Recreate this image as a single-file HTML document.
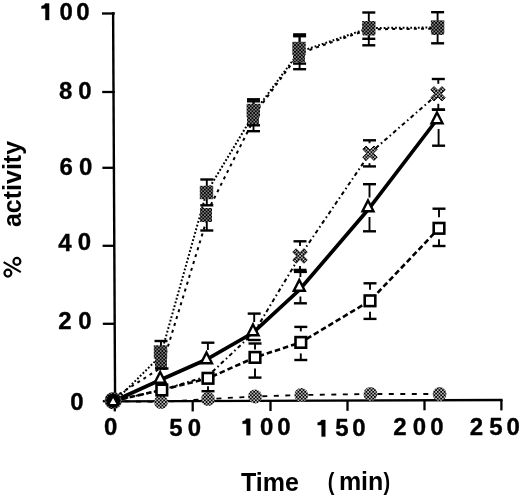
<!DOCTYPE html>
<html><head><meta charset="utf-8"><style>
html,body{margin:0;padding:0;background:#fff;}
svg{display:block;will-change:transform;}
text{font-family:"Liberation Sans",sans-serif;font-weight:bold;}
</style></head><body>
<svg width="520" height="497" viewBox="0 0 520 497">
<defs>
<pattern id="chk" patternUnits="userSpaceOnUse" width="3.4" height="3.4">
<rect width="3.4" height="3.4" fill="#000"/>
<rect x="0.25" y="0.25" width="1.2" height="1.2" fill="#fff"/>
<rect x="1.95" y="1.95" width="1.2" height="1.2" fill="#fff"/>
</pattern>
<pattern id="chk2" patternUnits="userSpaceOnUse" width="3.4" height="3.4">
<rect width="3.4" height="3.4" fill="#000"/>
<rect x="0.15" y="0.15" width="1.45" height="1.45" fill="#fff"/>
<rect x="1.85" y="1.85" width="1.45" height="1.45" fill="#fff"/>
</pattern>
</defs>
<rect width="520" height="497" fill="#fff"/>
<g><polyline points="113,401 161,402 208,399 255,396.5 301.3,395 370.4,394 439.6,394" fill="none" stroke="#000" stroke-width="1.8" stroke-dasharray="5,6.5"/><polyline points="113,403 160.5,356 206.5,192.5 253.3,115 253.3,113.5 299,52 369,28 437.6,27.5" fill="none" stroke="#000" stroke-width="2" stroke-dasharray="1.8,2"/><polyline points="113,398 161.5,367.5 208.2,215 205.8,215 253,121 253.5,115.5 299.3,53.5 369,29.3 437.6,28.6" fill="none" stroke="#000" stroke-width="2" stroke-dasharray="3,4.2"/><polyline points="113,401 161.8,390 208,376 254,332.5 300,256 370,153.2 438,93.8" fill="none" stroke="#000" stroke-width="2" stroke-dasharray="4,3,1.6,3"/><polyline points="113,401 161.8,390 208,378.3 255,357.4 300.8,342.4 370,300.8 439,228.3" fill="none" stroke="#000" stroke-width="2.6" stroke-dasharray="5.5,3"/><polyline points="113,401.5 160.2,380 206.3,359.5 253,332.8 299.3,290 368,209.8 437,119.5" fill="none" stroke="#000" stroke-width="3.7"/></g>
<g stroke="#000" stroke-width="1.9"><line x1="161" y1="352" x2="161" y2="341"/><line x1="206.8" y1="192.5" x2="206.8" y2="179.5"/><line x1="206.8" y1="192.5" x2="206.8" y2="205.3"/><line x1="253.5" y1="110" x2="253.5" y2="99.3"/><line x1="253.5" y1="110" x2="253.5" y2="125.3"/><line x1="299.6" y1="48.5" x2="299.6" y2="34.4"/><line x1="299.6" y1="48.5" x2="299.6" y2="63.6"/><line x1="368.8" y1="27.8" x2="368.8" y2="12.5"/><line x1="368.8" y1="27.8" x2="368.8" y2="38.8"/><line x1="437.6" y1="27" x2="437.6" y2="12.2"/><line x1="437.6" y1="27" x2="437.6" y2="43.3"/><line x1="162" y1="363" x2="162" y2="368.5"/><line x1="206.8" y1="215" x2="206.8" y2="230.5"/><line x1="253.5" y1="117" x2="253.5" y2="101.3"/><line x1="253.5" y1="117" x2="253.5" y2="131.2"/><line x1="299.6" y1="55" x2="299.6" y2="36.2"/><line x1="299.6" y1="55" x2="299.6" y2="69.2"/><line x1="368.8" y1="28.5" x2="368.8" y2="45.3"/><line x1="300" y1="246" x2="300" y2="241.3"/><line x1="300" y1="266" x2="300" y2="269.9"/><line x1="369.5" y1="143.2" x2="369.5" y2="140.3"/><line x1="369.5" y1="163.2" x2="369.5" y2="166.4"/><line x1="438.3" y1="83.8" x2="438.3" y2="79"/><line x1="438.3" y1="103.8" x2="438.3" y2="109.5"/><line x1="207.9" y1="350.0" x2="207.9" y2="342.7"/><line x1="254.2" y1="322.0" x2="254.2" y2="313.6"/><line x1="254.2" y1="339.5" x2="254.2" y2="340"/><line x1="300.4" y1="277.0" x2="300.4" y2="271.9"/><line x1="300.4" y1="296.5" x2="300.4" y2="303.3"/><line x1="369.5" y1="197.5" x2="369.5" y2="184.2"/><line x1="369.5" y1="217" x2="369.5" y2="231.3"/><line x1="438.6" y1="129" x2="438.6" y2="145.7"/><line x1="208" y1="386.3" x2="208" y2="391.2"/><line x1="255" y1="349.4" x2="255" y2="343.5"/><line x1="255" y1="368.4" x2="255" y2="377.6"/><line x1="300.8" y1="331.4" x2="300.8" y2="326.9"/><line x1="300.8" y1="353.4" x2="300.8" y2="360"/><line x1="370" y1="289.8" x2="370" y2="283.3"/><line x1="370" y1="311.8" x2="370" y2="318.9"/><line x1="439" y1="217.3" x2="439" y2="208.7"/><line x1="439" y1="239.3" x2="439" y2="246"/></g>

<g stroke="#000" stroke-width="2.3" fill="none" stroke-linecap="butt">
<line x1="113.1" y1="12.2" x2="115.1" y2="402.4" stroke-width="2.4"/>
<line x1="102" y1="13.5" x2="114.8" y2="13.5"/>
<line x1="102.2" y1="92" x2="114.8" y2="92"/>
<line x1="102.4" y1="167.8" x2="115" y2="167.8"/>
<line x1="102.6" y1="245.8" x2="115" y2="245.8"/>
<line x1="102.8" y1="323.8" x2="115" y2="323.8"/>
<line x1="102.8" y1="401.2" x2="115" y2="401.2"/>
<line x1="113.4" y1="401.4" x2="502.6" y2="400.0"/>
<line x1="114.8" y1="401" x2="114.8" y2="411.4"/>
<line x1="192.7" y1="401" x2="192.7" y2="411.4"/>
<line x1="270.5" y1="401" x2="270.5" y2="411"/>
<line x1="347.5" y1="400.5" x2="347.5" y2="410.8"/>
<line x1="424.5" y1="400" x2="424.5" y2="410.3"/>
<line x1="501.4" y1="400" x2="501.4" y2="410.4"/>
</g>

<g><circle cx="113.2" cy="400.6" r="8.7" fill="url(#chk)"/><circle cx="113.2" cy="400.8" r="7" fill="#000"/><circle cx="161" cy="402" r="6.9" fill="url(#chk2)"/><circle cx="208" cy="399" r="6.9" fill="url(#chk2)"/><circle cx="255" cy="396.5" r="6.9" fill="url(#chk2)"/><circle cx="301.3" cy="395" r="6.9" fill="url(#chk2)"/><circle cx="370.4" cy="394" r="6.9" fill="url(#chk2)"/><circle cx="439.6" cy="394" r="6.9" fill="url(#chk2)"/><rect x="153.8" y="345.3" width="13.4" height="13.4" fill="url(#chk)"/><rect x="199.8" y="185.8" width="13.4" height="13.4" fill="url(#chk)"/><rect x="246.60000000000002" y="103.8" width="13.4" height="13.4" fill="url(#chk)"/><rect x="292.3" y="41.8" width="13.4" height="13.4" fill="url(#chk)"/><rect x="362.1" y="21.1" width="13.4" height="13.4" fill="url(#chk)"/><rect x="430.90000000000003" y="20.3" width="13.4" height="13.4" fill="url(#chk)"/><rect x="155" y="356" width="12" height="14" fill="url(#chk)"/><rect x="200" y="208" width="12" height="14" fill="url(#chk)"/><rect x="247" y="110" width="12" height="14" fill="url(#chk)"/><rect x="293" y="48" width="12" height="14" fill="url(#chk)"/><rect x="363" y="21.5" width="12" height="14" fill="url(#chk)"/><rect x="431.6" y="21" width="12" height="14" fill="url(#chk)"/><polygon points="303.96,248.79 307.21,252.04 303.25,256.00 307.21,259.96 303.96,263.21 300.00,259.25 296.04,263.21 292.79,259.96 296.75,256.00 292.79,252.04 296.04,248.79 300.00,252.75" fill="url(#chk2)" stroke="#000" stroke-width="0.9"/><polygon points="373.96,145.99 377.21,149.24 373.25,153.20 377.21,157.16 373.96,160.41 370.00,156.45 366.04,160.41 362.79,157.16 366.75,153.20 362.79,149.24 366.04,145.99 370.00,149.95" fill="url(#chk2)" stroke="#000" stroke-width="0.9"/><polygon points="441.96,86.59 445.21,89.84 441.25,93.80 445.21,97.76 441.96,101.01 438.00,97.05 434.04,101.01 430.79,97.76 434.75,93.80 430.79,89.84 434.04,86.59 438.00,90.55" fill="url(#chk2)" stroke="#000" stroke-width="0.9"/><rect x="156.5" y="384.7" width="10.6" height="10.6" fill="#fff" stroke="#000" stroke-width="2.6"/><rect x="202.7" y="373.0" width="10.6" height="10.6" fill="#fff" stroke="#000" stroke-width="2.6"/><rect x="249.7" y="352.09999999999997" width="10.6" height="10.6" fill="#fff" stroke="#000" stroke-width="2.6"/><rect x="295.5" y="337.09999999999997" width="10.6" height="10.6" fill="#fff" stroke="#000" stroke-width="2.6"/><rect x="364.7" y="295.5" width="10.6" height="10.6" fill="#fff" stroke="#000" stroke-width="2.6"/><rect x="433.7" y="223.0" width="10.6" height="10.6" fill="#fff" stroke="#000" stroke-width="2.6"/><path d="M113.1,396.4 L117.8,404.9 L108.4,404.9 Z" fill="#fff" stroke="#000" stroke-width="1.6"/><path d="M160.2,372.00 L165.70,382.80 L154.70,382.80 Z" fill="#fff" stroke="#000" stroke-width="2.4" stroke-linejoin="miter"/><path d="M206.5,352.50 L212.00,363.30 L201.00,363.30 Z" fill="#fff" stroke="#000" stroke-width="2.4" stroke-linejoin="miter"/><path d="M253,324.50 L258.50,335.30 L247.50,335.30 Z" fill="#fff" stroke="#000" stroke-width="2.4" stroke-linejoin="miter"/><path d="M299.3,280.00 L304.80,290.80 L293.80,290.80 Z" fill="#fff" stroke="#000" stroke-width="2.4" stroke-linejoin="miter"/><path d="M368,200.50 L373.50,211.30 L362.50,211.30 Z" fill="#fff" stroke="#000" stroke-width="2.4" stroke-linejoin="miter"/><path d="M437,112.50 L442.50,123.30 L431.50,123.30 Z" fill="#fff" stroke="#000" stroke-width="2.4" stroke-linejoin="miter"/></g>
<g stroke="#000" stroke-width="1.9"><line x1="154.5" y1="341" x2="167.5" y2="341" stroke-width="2.4"/><line x1="200.3" y1="179.5" x2="213.3" y2="179.5" stroke-width="2.4"/><line x1="200.3" y1="205.3" x2="213.3" y2="205.3" stroke-width="2.4"/><line x1="247.0" y1="99.3" x2="260.0" y2="99.3" stroke-width="2.4"/><line x1="247.0" y1="125.3" x2="260.0" y2="125.3" stroke-width="2.4"/><line x1="293.1" y1="34.4" x2="306.1" y2="34.4" stroke-width="2.4"/><line x1="293.1" y1="63.6" x2="306.1" y2="63.6" stroke-width="2.4"/><line x1="362.3" y1="12.5" x2="375.3" y2="12.5" stroke-width="2.4"/><line x1="362.3" y1="38.8" x2="375.3" y2="38.8" stroke-width="2.4"/><line x1="431.1" y1="12.2" x2="444.1" y2="12.2" stroke-width="2.4"/><line x1="431.1" y1="43.3" x2="444.1" y2="43.3" stroke-width="2.4"/><line x1="155.5" y1="368.5" x2="168.5" y2="368.5" stroke-width="2.4"/><line x1="200.3" y1="230.5" x2="213.3" y2="230.5" stroke-width="2.4"/><line x1="247.0" y1="101.3" x2="260.0" y2="101.3" stroke-width="2.4"/><line x1="247.0" y1="131.2" x2="260.0" y2="131.2" stroke-width="2.4"/><line x1="293.1" y1="36.2" x2="306.1" y2="36.2" stroke-width="2.4"/><line x1="293.1" y1="69.2" x2="306.1" y2="69.2" stroke-width="2.4"/><line x1="362.3" y1="45.3" x2="375.3" y2="45.3" stroke-width="2.4"/><line x1="293.5" y1="241.3" x2="306.5" y2="241.3" stroke-width="2.4"/><line x1="293.5" y1="269.9" x2="306.5" y2="269.9" stroke-width="2.4"/><line x1="363.0" y1="140.3" x2="376.0" y2="140.3" stroke-width="2.4"/><line x1="363.0" y1="166.4" x2="376.0" y2="166.4" stroke-width="2.4"/><line x1="431.8" y1="79" x2="444.8" y2="79" stroke-width="2.4"/><line x1="431.8" y1="109.5" x2="444.8" y2="109.5" stroke-width="2.4"/><line x1="201.4" y1="342.7" x2="214.4" y2="342.7" stroke-width="2.4"/><line x1="247.7" y1="313.6" x2="260.7" y2="313.6" stroke-width="2.4"/><line x1="247.7" y1="340" x2="260.7" y2="340" stroke-width="2.4"/><line x1="293.9" y1="271.9" x2="306.9" y2="271.9" stroke-width="2.4"/><line x1="293.9" y1="303.3" x2="306.9" y2="303.3" stroke-width="2.4"/><line x1="363.0" y1="184.2" x2="376.0" y2="184.2" stroke-width="2.4"/><line x1="363.0" y1="231.3" x2="376.0" y2="231.3" stroke-width="2.4"/><line x1="432.1" y1="109.8" x2="445.1" y2="109.8" stroke-width="2.4"/><line x1="432.1" y1="145.7" x2="445.1" y2="145.7" stroke-width="2.4"/><line x1="201.5" y1="391.2" x2="214.5" y2="391.2" stroke-width="2.4"/><line x1="248.5" y1="343.5" x2="261.5" y2="343.5" stroke-width="2.4"/><line x1="248.5" y1="377.6" x2="261.5" y2="377.6" stroke-width="2.4"/><line x1="294.3" y1="326.9" x2="307.3" y2="326.9" stroke-width="2.4"/><line x1="294.3" y1="360" x2="307.3" y2="360" stroke-width="2.4"/><line x1="363.5" y1="283.3" x2="376.5" y2="283.3" stroke-width="2.4"/><line x1="363.5" y1="318.9" x2="376.5" y2="318.9" stroke-width="2.4"/><line x1="432.5" y1="208.7" x2="445.5" y2="208.7" stroke-width="2.4"/><line x1="432.5" y1="246" x2="445.5" y2="246" stroke-width="2.4"/></g>
<g font-size="24.0" fill="#000" stroke="#000" stroke-width="0.35"><path d="M49.10,3.49 L49.10,20.00 L45.40,20.00 L45.40,8.49 L41.50,8.49 L41.50,5.99 Q44.70,5.79 45.10,3.49 Z"/><text transform="translate(59.55,19.77) scale(1.0,1)">0</text><text transform="translate(76.35,19.77) scale(1.0,1)">0</text><text transform="translate(59.04,98.67) scale(1.0,1)">8</text><text transform="translate(78.35,98.67) scale(1.0,1)">0</text><text transform="translate(59.62,175.07) scale(1.0,1)">6</text><text transform="translate(79.05,175.07) scale(1.0,1)">0</text><text transform="translate(58.14,250.60) scale(1.0,1)">4</text><text transform="translate(77.75,250.37) scale(1.0,1)">0</text><text transform="translate(58.27,328.90) scale(1.0,1)">2</text><text transform="translate(78.35,328.67) scale(1.0,1)">0</text><text transform="translate(70.35,410.47) scale(1.0,1)">0</text><text transform="translate(103.95,434.67) scale(1.0,1)">0</text><text transform="translate(169.36,435.97) scale(1.0,1)">5</text><text transform="translate(187.65,435.97) scale(1.0,1)">0</text><path d="M250.20,418.69 L250.20,435.20 L246.50,435.20 L246.50,423.69 L242.60,423.69 L242.60,421.19 Q245.80,420.99 246.20,418.69 Z"/><text transform="translate(259.95,434.97) scale(1.0,1)">0</text><text transform="translate(277.15,434.97) scale(1.0,1)">0</text><path d="M325.30,420.09 L325.30,436.60 L321.60,436.60 L321.60,425.09 L317.70,425.09 L317.70,422.59 Q320.90,422.39 321.30,420.09 Z"/><text transform="translate(335.16,436.37) scale(1.0,1)">5</text><text transform="translate(352.35,436.37) scale(1.0,1)">0</text><text transform="translate(393.17,435.30) scale(1.0,1)">2</text><text transform="translate(412.65,435.07) scale(1.0,1)">0</text><text transform="translate(430.15,435.07) scale(1.0,1)">0</text><text transform="translate(469.67,435.00) scale(1.0,1)">2</text><text transform="translate(489.26,434.77) scale(1.0,1)">5</text><text transform="translate(506.55,434.77) scale(1.0,1)">0</text></g>
<text x="241" y="490.7" font-size="25">Time</text>
<text transform="translate(327.8,489.6) scale(0.85,1)" font-size="23.5">(</text><text x="338.9" y="490.4" font-size="25">min</text><text transform="translate(383.5,489.6) scale(0.85,1)" font-size="23.5">)</text>
<g fill="none" stroke="#000"><circle cx="16.9" cy="261.4" r="3.45" stroke-width="2.2"/><circle cx="7.9" cy="273.1" r="3.45" stroke-width="2.2"/><line x1="3.6" y1="262.2" x2="20.8" y2="272.2" stroke-width="2.1"/></g>
<text transform="translate(21,227.1) rotate(-90)" font-size="25">activity</text>
</svg>
</body></html>
